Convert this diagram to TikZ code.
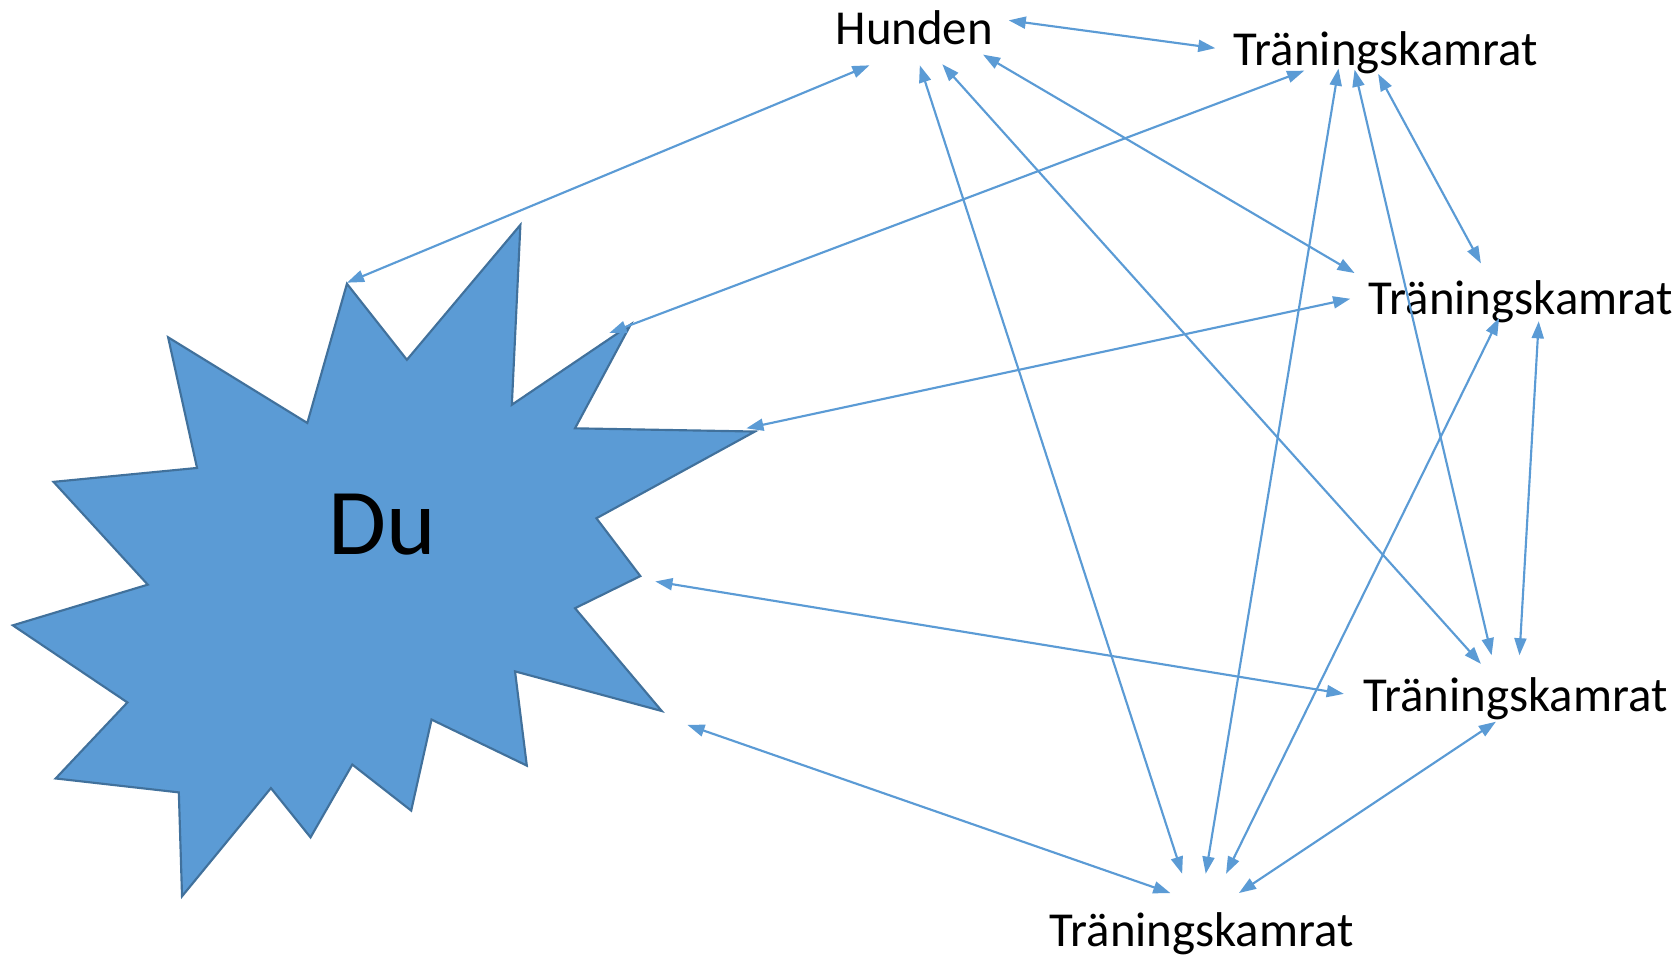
\documentclass[tikz,border=0pt]{standalone}
\usepackage{fontspec}
\setmainfont{Carlito}
\usetikzlibrary{arrows.meta}
\definecolor{officeblue}{HTML}{5B9BD5}
\definecolor{officeedge}{HTML}{41719C}
\tikzset{
  lbl/.style={anchor=base west, inner sep=0pt, font=\fontsize{22.8}{27}\selectfont},
  link/.style={draw=officeblue, line width=1pt,
    {Triangle[length=8pt,width=5.6pt]}-{Triangle[length=8pt,width=5.6pt]}},
  starshape/.style={fill=officeblue, draw=officeedge, line width=1pt, line join=miter}
}
\begin{document}
\begin{tikzpicture}[x=0.5pt,y=-0.5pt]
\useasboundingbox (0,0) rectangle (1568,894);
% star
\path[starshape] (324,265) -- (380,336) -- (486,210) -- (478,378) -- (589,303) -- (537,400)
 -- (705,403) -- (557,484) -- (598,538) -- (537,568) -- (618,664) -- (481,627)
 -- (492,715) -- (403,672) -- (384,757) -- (329,714) -- (290,782) -- (253,736)
 -- (170,837) -- (167,740) -- (52,727) -- (119,656) -- (12,584) -- (138,546)
 -- (50,450) -- (184,437) -- (157,315) -- (287,395) -- cycle;
\node[anchor=base west, inner sep=0pt, font=\fontsize{44}{50}\selectfont] (du) at (306,518) {Du};
% labels
\node[lbl] (hunden) at (780,42) {Hunden};
\node[lbl] (t1) at (1152,61) {Träningskamrat};
\node[lbl] (t2) at (1278,294) {Träningskamrat};
\node[lbl] (t3) at (1273,664) {Träningskamrat};
\node[lbl] (t4) at (980,884) {Träningskamrat};
% endpoints
\coordinate (duH) at (324,264);
\coordinate (duA) at (569,311);
\coordinate (duB) at (697,400);
\coordinate (duC) at (612,543);
\coordinate (duD) at (642,677);
\coordinate (hDu) at (812,61);
\coordinate (hT4) at (859,61);
\coordinate (hT3) at (880,60);
\coordinate (hT2) at (918,51);
\coordinate (hT1) at (942,19);
\coordinate (aH) at (1135,45);
\coordinate (aDu) at (1218,66);
\coordinate (aT4) at (1250,64);
\coordinate (aT3) at (1265,65);
\coordinate (aT2) at (1287,69);
\coordinate (bH) at (1265,255);
\coordinate (bDu) at (1261,279);
\coordinate (bT1) at (1383,246);
\coordinate (bT4) at (1400,297);
\coordinate (bT3) at (1437,300);
\coordinate (cH) at (1383,620);
\coordinate (cT1) at (1393,612);
\coordinate (cT2) at (1419,612);
\coordinate (cDu) at (1255,648);
\coordinate (cT4) at (1397,674);
\coordinate (dDu) at (1093,834);
\coordinate (dH) at (1104,816);
\coordinate (dT1) at (1126,816);
\coordinate (dT2) at (1145,816);
\coordinate (dT3) at (1157,834);
% connectors
\draw[link] (duH) -- (hDu);
\draw[link] (duA) -- (aDu);
\draw[link] (duB) -- (bDu);
\draw[link] (duC) -- (cDu);
\draw[link] (duD) -- (dDu);
\draw[link] (hT1) -- (aH);
\draw[link] (hT4) -- (dH);
\draw[link] (hT3) -- (cH);
\draw[link] (hT2) -- (bH);
\draw[link] (aT4) -- (dT1);
\draw[link] (aT3) -- (cT1);
\draw[link] (aT2) -- (bT1);
\draw[link] (bT4) -- (dT2);
\draw[link] (bT3) -- (cT2);
\draw[link] (cT4) -- (dT3);
\end{tikzpicture}
\end{document}
